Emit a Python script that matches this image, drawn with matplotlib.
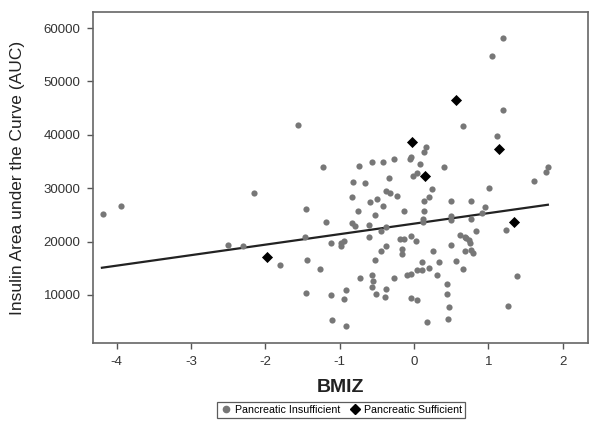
import matplotlib

matplotlib.use("Agg")
import matplotlib.pyplot as plt
from matplotlib.lines import Line2D

plt.rcParams["font.family"] = ["Liberation Sans", "DejaVu Sans"]

# Pancreatic insufficient (BMIZ, insulin AUC)
pi_x = [-4.19, -3.95, -2.51, -2.30, -1.81, -2.16, -1.56, -1.46, -1.47, -1.44, -1.45,
        -1.22, -1.19, -0.74, -0.57, -0.42, -0.27, -0.06, -0.04, 0.16, 0.13, 0.08,
        -0.02, 0.04, -0.82, -0.66, -0.34, -0.84, -0.38, -0.33, -0.23, -0.59, -0.50,
        -0.42, -0.75, -0.52, -0.13, 0.13, 0.12, 0.20, 0.24, -0.84, -0.79, -0.61,
        -0.38, -0.45, -1.12, -0.99, -0.94, -0.99, -0.61, -0.38, -0.45, -0.19, -0.13,
        -0.04, 0.03, -0.16, -0.16, -1.26, -0.53, -0.73, -0.57, -0.55, -0.57, -0.51,
        -0.38, -0.39, -0.27, -0.10, -0.04, 0.04, 0.11, 0.10, 0.20, -1.12, -0.91,
        -0.94, -0.04, 0.04, -1.10, -0.92, 0.18, 1.23, 0.83, 0.62, 0.68, 0.70, 0.74,
        0.75, 0.49, 0.69, 0.76, 0.79, 0.26, 0.33, 0.56, 0.66, 0.31, 0.44, 0.44,
        0.47, 0.46, 1.38, 1.27, 1.20, 0.66, 1.11, 0.40, 1.80, 1.77, 1.62, 1.01,
        0.13, 0.49, 0.76, 0.95, 0.92, 0.49, 0.50, 0.77, 1.20, 1.05, 0.12]
pi_y = [25100, 26600, 19300, 19200, 15700, 29100, 41800, 26100, 20800, 16500, 10400,
        34000, 23700, 34200, 35000, 35000, 35400, 35400, 35900, 37700, 36800, 34500,
        32300, 32800, 31100, 31000, 32000, 28300, 29500, 29100, 28600, 27500, 27900,
        26700, 25700, 24900, 25700, 25800, 24300, 28400, 29900, 23500, 22900, 23100,
        22800, 22000, 19800, 19800, 20100, 19200, 20800, 19200, 18300, 20400, 20500,
        21100, 20100, 18600, 17700, 14900, 16600, 13200, 13700, 12600, 11400, 10200,
        11100, 9700, 13200, 13700, 13900, 14600, 14600, 16200, 15000, 10000, 11000,
        9200, 9500, 9100, 5300, 4100, 4900, 22100, 22000, 21200, 20800, 20600, 20300,
        19700, 19300, 18300, 18400, 17800, 18300, 16100, 16300, 14800, 13700, 12100, 10100,
        7700, 5500, 13500, 8000, 44600, 41700, 39700, 34000, 34000, 33000, 31400, 30000,
        27600, 27600, 27600, 26400, 25300, 24800, 24000, 24300, 58100, 54800, 23700]

# Pancreatic sufficient
ps_x = [-1.98, -0.03, 0.15, 0.56, 1.14, 1.34]
ps_y = [17100, 38600, 32300, 46500, 37400, 23600]

# regression line end points
line_x = [-4.2, 1.8]
line_y = [15100, 26900]

x_ticks = [-4, -3, -2, -1, 0, 1, 2]
y_ticks = [10000, 20000, 30000, 40000, 50000, 60000]

fig = plt.figure(figsize=(6, 4.3), dpi=100)
ax = fig.add_axes([0.155, 0.2023, 0.825, 0.7697])

ax.scatter(pi_x, pi_y, s=20, color="#777777", marker="o", linewidths=0, zorder=3)
ax.scatter(ps_x, ps_y, s=32, color="black", marker="D", linewidths=0, zorder=4)
ax.plot(line_x, line_y, color="#222222", linewidth=1.6, zorder=2)

ax.set_xlim(-4.32, 2.34)
ax.set_ylim(1000, 63000)
ax.set_xticks(x_ticks)
ax.set_xticklabels([str(t) for t in x_ticks])
ax.set_yticks(y_ticks)
ax.set_yticklabels([str(t) for t in y_ticks])
ax.tick_params(direction="out", length=4, width=1, colors="#555555",
               labelcolor="#333333", labelsize=9.5, pad=5)
for sp in ax.spines.values():
    sp.set_color("#666666")
    sp.set_linewidth(1.2)

ax.set_xlabel("BMIZ", fontsize=14, fontweight="bold", color="#222222", labelpad=8)
ax.set_ylabel("Insulin Area under the Curve (AUC)", fontsize=12.5, color="#222222", labelpad=13)

handles = [
    Line2D([], [], linestyle="none", marker="o", markersize=4.5, color="#777777",
           label="Pancreatic Insufficient"),
    Line2D([], [], linestyle="none", marker="D", markersize=5, color="black",
           label="Pancreatic Sufficient"),
]
leg = fig.legend(handles=handles, loc="center", bbox_to_anchor=(0.568, 0.047), ncol=2,
                 fontsize=7.7, frameon=True, fancybox=False, handletextpad=0.2,
                 columnspacing=0.8, borderpad=0.3, handlelength=1.2)
leg.get_frame().set_edgecolor("#333333")
leg.get_frame().set_linewidth(0.9)

fig.savefig("out.png", dpi=100)
